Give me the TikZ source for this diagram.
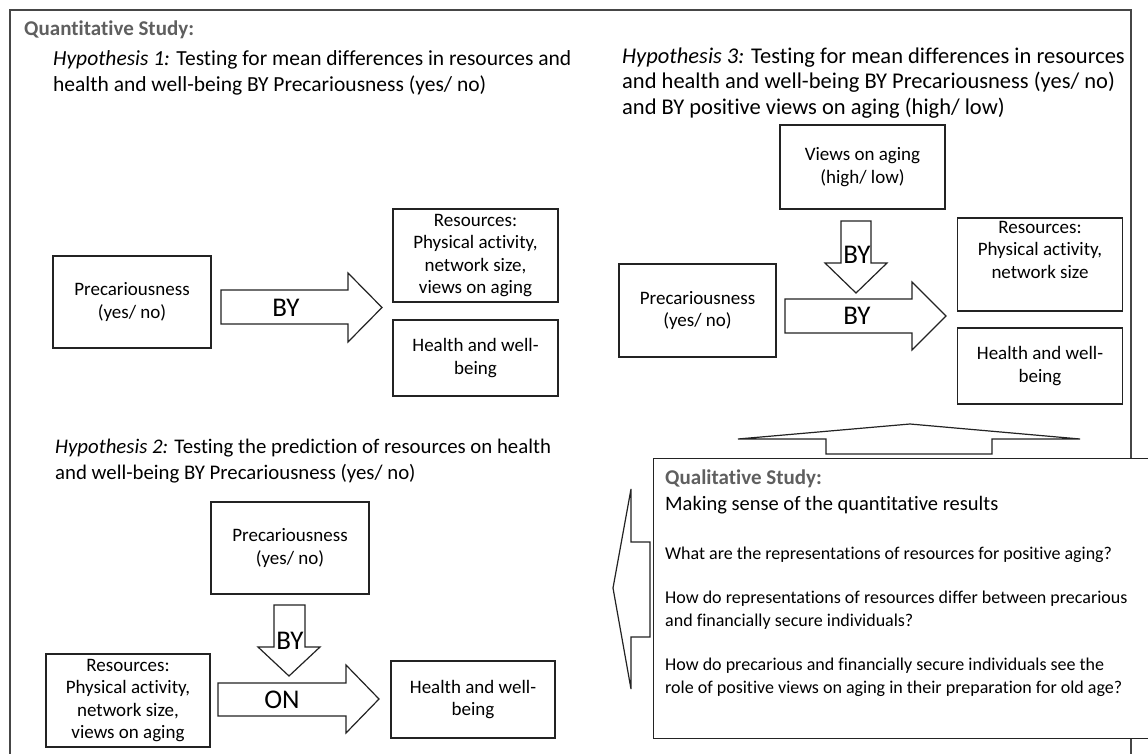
\documentclass[tikz,border=0pt]{standalone}
\usepackage{fontspec}
\setmainfont{Carlito}[Ligatures=NoCommon]
\definecolor{headgray}{RGB}{95,95,95}
\definecolor{linec}{RGB}{35,35,35}
\definecolor{framec}{RGB}{70,70,70}
\tikzset{
  box/.style={draw=linec, line width=1.2pt, fill=white, align=center, inner sep=0pt,
              font=\fontsize{19}{22.5}\selectfont},
  blk/.style={draw=linec, line width=1.2pt, fill=white, line join=miter},
  biglabel/.style={inner sep=0pt, font=\fontsize{27}{30}\selectfont},
  hyp/.style={align=left, anchor=west, inner sep=0pt, font=\fontsize{21.5}{25.5}\selectfont},
  head/.style={anchor=west, inner sep=0pt, text=headgray, font=\fontsize{21}{25}\selectfont\bfseries},
  qtext/.style={align=left, anchor=west, inner sep=0pt, font=\fontsize{18}{23}\selectfont},
  frameline/.style={draw=framec, line width=1.6pt}
}
\begin{document}
\begin{tikzpicture}[x=1pt,y=-1pt]
\useasboundingbox (0,0) rectangle (1148,754);
\clip (0,0) rectangle (1148,754);
\fill[white] (0,0) rectangle (1148,754);
% outer frame
\draw[frameline] (10,770) -- (10,10) -- (1131,10) -- (1131,770);

% headings
\node[head] (quant) at (24,30) {Quantitative Study:};
\node[hyp] (hyp1) at (53,73) {\textit{Hypothesis 1:} Testing for mean differences in resources and\\health and well-being BY Precariousness (yes/ no)};
\node[hyp, font=\fontsize{22.5}{25.5}\selectfont] (hyp3) at (622,83) {\textit{Hypothesis 3:} Testing for mean differences in resources\\and health and well-being BY Precariousness (yes/ no)\\and BY positive views on aging (high/ low)};
\node[hyp, font=\fontsize{20.8}{25.5}\selectfont] (hyp2) at (55,461) {\textit{Hypothesis 2:} Testing the prediction of resources on health\\and well-being BY Precariousness (yes/ no)};

% ---------- Hypothesis 1 ----------
\node[box, minimum width=158pt, minimum height=92pt] (p1) at (132,302) {Precariousness\\(yes/ no)};
\node[box, minimum width=165pt, minimum height=93pt] (r1) at (475.5,255.5) {Resources:\\Physical activity,\\network size,\\views on aging};
\node[box, minimum width=165pt, minimum height=76pt] (h1) at (475.5,358) {Health and well-\\being};
\draw[blk] (221,290) -- (348,290) -- (348,273) -- (382,307.5) -- (348,342) -- (348,324) -- (221,324) -- cycle;
\node[biglabel] (by1) at (286,308) {BY};

% ---------- Hypothesis 3 ----------
\node[box, minimum width=165pt, minimum height=84pt] (v3) at (862.5,167) {Views on aging\\(high/ low)};
\node[box, minimum width=157pt, minimum height=93pt] (p3) at (697.5,310.5) {Precariousness\\(yes/ no)};
\node[box, minimum width=165pt, minimum height=93pt] (r3) at (1040,264.5) {Resources:\\Physical activity,\\network size\\\strut};
\node[box, minimum width=165pt, minimum height=76pt] (h3) at (1040,366) {Health and well-\\being};
\draw[blk] (841,221) -- (871,221) -- (871,263) -- (887,263) -- (856,293) -- (825,263) -- (841,263) -- cycle;
\draw[blk] (785,299) -- (912,299) -- (912,282) -- (946,316) -- (912,350) -- (912,333) -- (785,333) -- cycle;
\node[biglabel] (by3a) at (857,255) {BY};
\node[biglabel] (by3b) at (857,316) {BY};

% ---------- Hypothesis 2 ----------
\node[box, minimum width=158pt, minimum height=92pt] (p2) at (290,548) {Precariousness\\(yes/ no)};
\node[box, minimum width=164pt, minimum height=93pt] (r2) at (128,700.5) {Resources:\\Physical activity,\\network size,\\views on aging};
\node[box, minimum width=164pt, minimum height=77pt] (h2) at (473,699.5) {Health and well-\\being};
\draw[blk] (274,605) -- (305,605) -- (305,647) -- (320,647) -- (289,676) -- (258,647) -- (274,647) -- cycle;
\draw[blk] (218,683) -- (346,683) -- (346,665) -- (379,699) -- (346,733) -- (346,716) -- (218,716) -- cycle;
\node[biglabel] (by2) at (290,641) {BY};
\node[biglabel] (on2) at (282,700) {ON};

% ---------- Qualitative study ----------
\draw[blk] (826,454) -- (826,439) -- (738,439) -- (910,424) -- (1080,439) -- (992,439) -- (992,454) -- cycle;
\node[draw=linec, line width=1.2pt, fill=white, anchor=north west, inner sep=0pt,
      minimum width=520pt, minimum height=280pt] (qual) at (653,458) {};
\draw[blk] (650,542) -- (631,542) -- (631,489) -- (613,588) -- (631,689) -- (631,637) -- (650,637) -- cycle;
\node[head] (qhead) at (665,479) {Qualitative Study:};
\node[qtext, font=\fontsize{20.5}{24}\selectfont] (qsense) at (665,505) {Making sense of the quantitative results};
\node[qtext] (q1) at (665,555) {What are the representations of resources for positive aging?};
\node[qtext] (q2) at (665,610) {How do representations of resources differ between precarious\\and financially secure individuals?};
\node[qtext] (q3) at (665,677) {How do precarious and financially secure individuals see the\\role of positive views on aging in their preparation for old age?};
\end{tikzpicture}
\end{document}
